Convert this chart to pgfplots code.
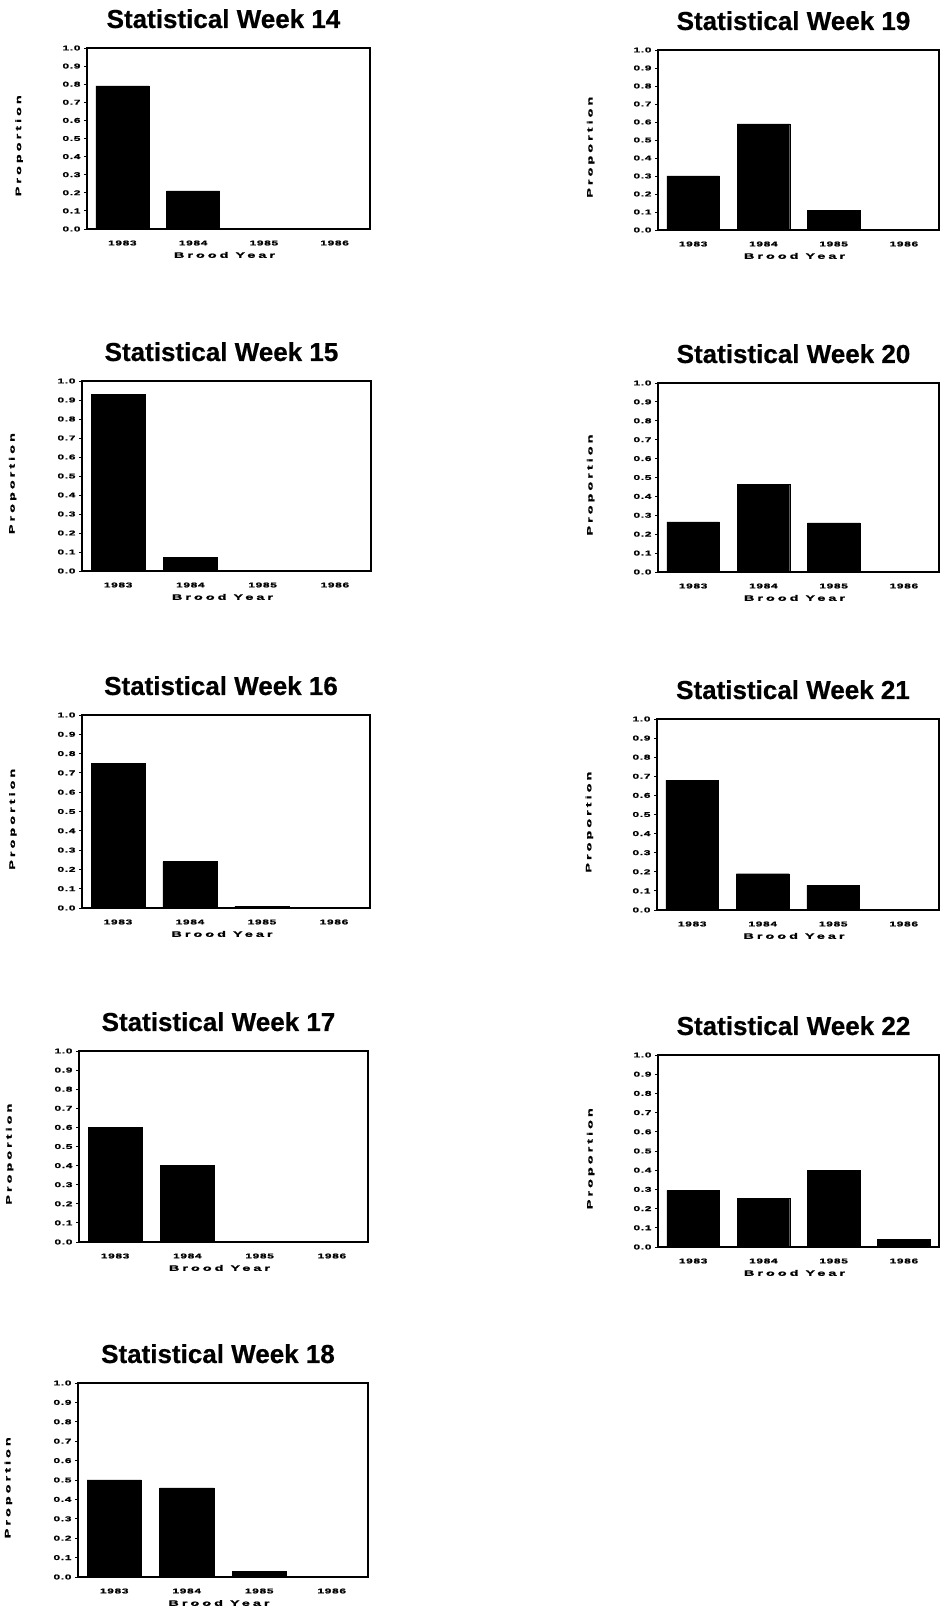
\documentclass[border=0pt]{standalone}
\usepackage{fontspec}
\setmainfont{Liberation Sans}
\newfontfamily\tickfont{Liberation Sans}[FakeStretch=1.7,LetterSpace=10,FakeBold=1.5]
\newfontfamily\labfont{Liberation Sans}[FakeStretch=1.8,LetterSpace=38,FakeBold=1.5]
\newfontfamily\titfont{Liberation Sans}[FakeBold=0.6]
\usepackage{pgfplots}
\usepackage{pgfplotstable}
\pgfplotsset{compat=1.18}

\pgfplotstableread{
x w14 w15 w16 w17 w18 w19 w20 w21 w22
0 0.79 0.93 0.75 0.60 0.50 0.30 0.265 0.68 0.295
1 0.21 0.07 0.24 0.40 0.46 0.59 0.465 0.19 0.255
2 0.0 0.0 0.01 0.0 0.03 0.11 0.26 0.13 0.40
3 0.0 0.0 0.0 0.0 0.0 0.0 0.0 0.0 0.04
}\data

\pgfplotsset{panel/.style={
  scale only axis, anchor=north west,
  xmin=-0.5, xmax=3.5, ymin=0, ymax=1,
  xtick={0,1,2,3}, xticklabels={1983,1984,1985,1986},
  ytick={0,0.1,0.2,0.3,0.4,0.5,0.6,0.7,0.8,0.9,1.0},
  ytick pos=left, tick align=outside,
  major tick length=3pt,
  major x tick style={draw=none},
  every tick/.style={black, line width=0.8pt},
  axis line style={line width=1.8pt},
  ticklabel style={font=\tickfont\bfseries\fontsize{7}{8}\selectfont},
  xticklabel style={yshift=-5pt},
  yticklabel style={/pgf/number format/.cd, fixed, fixed zerofill, precision=1, assume math mode=true},
  xlabel={Brood Year}, ylabel={Proportion},
  label style={font=\labfont\bfseries\fontsize{8}{9}\selectfont},
  xlabel style={at={(axis description cs:0.5,0)}, anchor=center, yshift=-26pt, xshift=-4pt},
  ylabel style={at={(axis description cs:-0.24,0.46)}, anchor=center},
  title style={font=\titfont\bfseries\fontsize{26}{30}\selectfont, at={(axis description cs:0.5,1)}, anchor=base, yshift=14pt, xshift=-5pt},
}}
\newcommand{\bars}[1]{\addplot[ybar, fill=black, draw=black, line width=0.4pt, bar width=0.75] table[x=x,y=#1]{\data};}

\begin{document}
\begin{tikzpicture}
\useasboundingbox (0pt,0pt) rectangle (940pt,1610pt);
% left column
\begin{axis}[panel, at={(87pt,1562pt)}, width=283pt, height=181pt, title={Statistical Week 14}]
\bars{w14}
\end{axis}
\begin{axis}[panel, at={(82pt,1229pt)}, width=289pt, height=190pt, title={Statistical Week 15}]
\bars{w15}
\end{axis}
\begin{axis}[panel, at={(82pt,895pt)}, width=288pt, height=193pt, title={Statistical Week 16}]
\bars{w16}
\end{axis}
\begin{axis}[panel, at={(79pt,559pt)}, width=289pt, height=191pt, title={Statistical Week 17}]
\bars{w17}
\end{axis}
\begin{axis}[panel, at={(78pt,227pt)}, width=290pt, height=194pt, title={Statistical Week 18}]
\bars{w18}
\end{axis}
% right column
\begin{axis}[panel, at={(658pt,1560pt)}, width=281pt, height=180pt, title={Statistical Week 19}]
\bars{w19}
\end{axis}
\begin{axis}[panel, at={(658pt,1227pt)}, width=281pt, height=189pt, title={Statistical Week 20}]
\bars{w20}
\end{axis}
\begin{axis}[panel, at={(657pt,891pt)}, width=282pt, height=191pt, title={Statistical Week 21}]
\bars{w21}
\end{axis}
\begin{axis}[panel, at={(658pt,555pt)}, width=281pt, height=192pt, title={Statistical Week 22}]
\bars{w22}
\end{axis}
\end{tikzpicture}
\end{document}
